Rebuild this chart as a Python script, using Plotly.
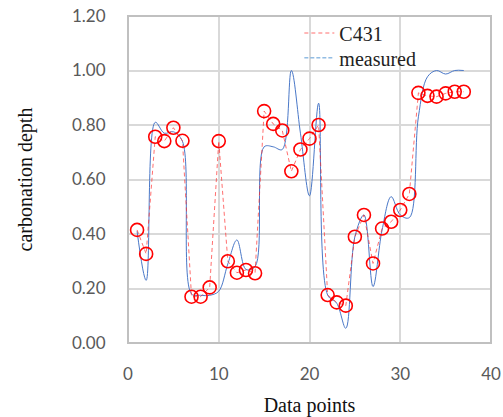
import plotly.graph_objects as go

x_points = list(range(1, 38))
c431 = [0.415, 0.327, 0.757, 0.741, 0.79, 0.742, 0.17, 0.17, 0.204, 0.741,
        0.30, 0.258, 0.268, 0.256, 0.851, 0.804, 0.78, 0.63, 0.71, 0.75,
        0.80, 0.176, 0.149, 0.137, 0.39, 0.47, 0.292, 0.42, 0.445, 0.488,
        0.547, 0.918, 0.907, 0.904, 0.916, 0.922, 0.922]
measured = [0.41, 0.23, 0.81, 0.77, 0.775, 0.74, 0.18, 0.175, 0.175, 0.19,
            0.29, 0.378, 0.27, 0.28, 0.72, 0.72, 0.71, 1.00, 0.77, 0.54,
            0.88, 0.176, 0.146, 0.054, 0.39, 0.47, 0.207, 0.415, 0.537, 0.47,
            0.46, 0.83, 0.977, 1.0, 0.987, 1.0, 1.0]

y_ticks = [0.0, 0.2, 0.4, 0.6, 0.8, 1.0, 1.2]
x_ticks = [0, 10, 20, 30, 40]

blue = "#4a78c8"
red = "#ff0000"
legend_font = dict(family="Liberation Serif", size=20, color="#222222")

fig = go.Figure()
fig.add_trace(go.Scatter(x=x_points, y=measured, mode="lines",
                         line=dict(color=blue, width=1, shape="spline", smoothing=1.0),
                         showlegend=False, hoverinfo="skip"))
fig.add_trace(go.Scatter(x=x_points, y=c431, mode="lines", name="C431", legend="legend",
                         line=dict(color="rgba(255,40,40,0.75)", width=0.9, dash="4px,3px")))
fig.add_trace(go.Scatter(x=[None], y=[None], mode="lines", name="measured", legend="legend2",
                         line=dict(color="#5b9bd5", width=1, dash="4px,2px")))
fig.add_trace(go.Scatter(x=x_points, y=c431, mode="markers", showlegend=False,
                         marker=dict(symbol="circle-open", size=13, color=red,
                                     line=dict(color=red, width=1.6))))

fig.update_layout(
    width=503, height=417,
    margin=dict(l=128, r=12, t=16, b=74),
    paper_bgcolor="white", plot_bgcolor="white",
    legend=dict(x=0.472, y=0.948, xanchor="left", yanchor="middle",
                bgcolor="rgba(0,0,0,0)", font=legend_font),
    legend2=dict(x=0.472, y=0.872, xanchor="left", yanchor="middle",
                 bgcolor="rgba(0,0,0,0)", font=legend_font),
    shapes=[dict(type="rect", xref="paper", yref="paper", x0=0, y0=0, x1=1, y1=1,
                 line=dict(color="#c0c0c0", width=2), layer="above")],
)
fig.update_xaxes(range=[0, 40], tickvals=x_ticks, showgrid=True, gridcolor="#d9d9d9",
                 gridwidth=1.5, zeroline=False, showline=False, automargin=False,
                 ticks="outside", ticklen=16, tickcolor="rgba(0,0,0,0)",
                 tickfont=dict(family="Lato", size=17, color="#595959"),
                 title=dict(text="Data points", standoff=18,
                            font=dict(family="Liberation Serif", size=20, color="#111111")))
fig.update_yaxes(range=[0, 1.2], tickvals=y_ticks, tickformat=".2f", showgrid=True,
                 gridcolor="#d9d9d9", gridwidth=1.5, zeroline=False, showline=False,
                 automargin=False,
                 ticks="outside", ticklen=18, tickcolor="rgba(0,0,0,0)",
                 tickfont=dict(family="Lato", size=17, color="#595959"),
                 title=dict(text="carbonation depth", standoff=34,
                            font=dict(family="Liberation Serif", size=20, color="#111111")))

fig.write_html("out.html")
